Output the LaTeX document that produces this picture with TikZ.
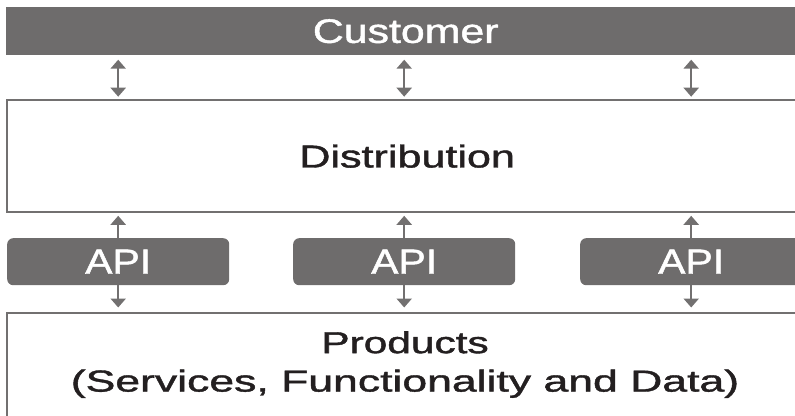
\documentclass[tikz,border=0pt]{standalone}
\usepackage{graphicx}
\usepackage{fontspec}
\setmainfont{Liberation Sans}[FakeBold=1.2]
\usetikzlibrary{arrows.meta}
\definecolor{slate}{HTML}{6E6C6C}
\definecolor{rim}{HTML}{727070}
\definecolor{ink}{HTML}{231F20}
\begin{document}
\begin{tikzpicture}[x=1pt,y=-1pt,
  band/.style={fill=slate, draw=none, inner sep=0pt, anchor=north west, text=white},
  frame/.style={draw=rim, line width=2.3pt, fill=white, inner sep=0pt, anchor=north west, text=ink},
  apibox/.style={fill=slate, draw=none, rounded corners=6pt, inner sep=0pt, anchor=north west,
    minimum width=222pt, minimum height=47pt, text=white},
  link/.style={draw=rim, line width=2.5pt},
  >={Triangle[width=15pt,length=9pt]},
]
\useasboundingbox (0,0) rectangle (795,415);
\clip (0,0) rectangle (795,415);

% layers
\node[band, minimum width=799pt, minimum height=48pt] (cust) at (6,7)
  {\raisebox{-1.8pt}{\fontsize{34}{34}\selectfont\scalebox{1.26}[1]{Customer}}};
\node[frame, minimum width=800pt, minimum height=112pt] (dist) at (6,99)
  {\fontsize{31.7}{32}\selectfont\scalebox{1.36}[1]{Distribution}};
\node[frame, minimum width=800pt, minimum height=130pt] (prod) at (6,312) {};
\node[anchor=north, align=center, inner sep=0pt, text=ink,
  font=\fontsize{30.3}{38.4}\selectfont] (prodtext) at (405,331)
  {\scalebox{1.40}[1]{Products}\\\scalebox{1.47}[1]{(Services, Functionality and Data)}};

% API gateways
\node[apibox] (a1) at (7,238)
  {\raisebox{-2pt}{\fontsize{35}{35}\selectfont\scalebox{1.17}[1]{API}}};
\node[apibox] (a2) at (293,238)
  {\raisebox{-2pt}{\fontsize{35}{35}\selectfont\scalebox{1.17}[1]{API}}};
\node[apibox] (a3) at (580,238)
  {\raisebox{-2pt}{\fontsize{35}{35}\selectfont\scalebox{1.17}[1]{API}}};

% connectors
\foreach \g in {a1,a2,a3}{
  \draw[link,<->, shorten <=4.3pt, shorten >=2.3pt] (cust.south -| \g.north) -- (dist.north -| \g.north);
  \draw[link,->, shorten >=2.5pt] (\g.north) -- (\g.north |- dist.south);
  \draw[link,->, shorten >=4.5pt] (\g.south) -- (\g.south |- prod.north);
}
\end{tikzpicture}
\end{document}
